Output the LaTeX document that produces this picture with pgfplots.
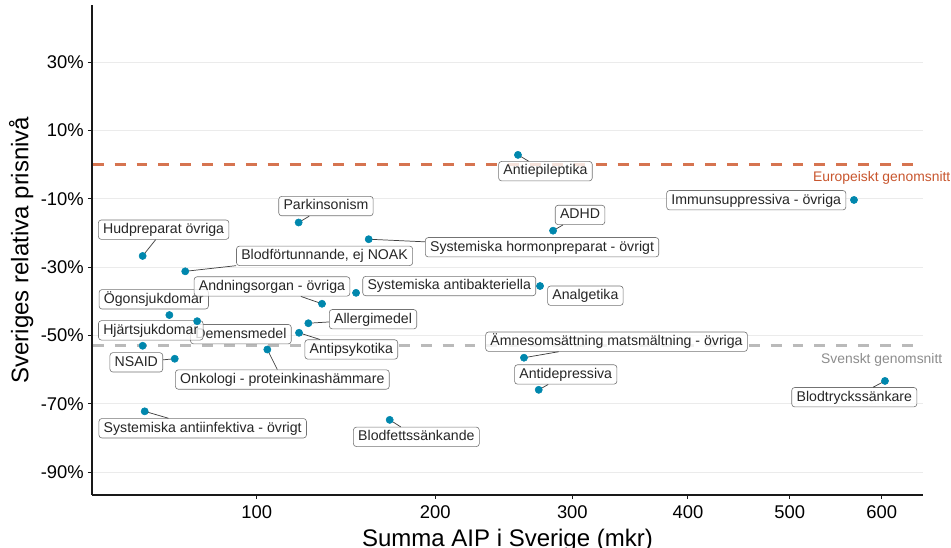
\documentclass[border=0pt]{standalone}
\usepackage{fontspec}
\setmainfont{Liberation Sans}
\usepackage{pgfplots}
\usepackage{pgfplotstable}
\pgfplotsset{compat=1.18}
\definecolor{ptc}{RGB}{0,135,173}
\definecolor{euro}{RGB}{214,116,80}
\definecolor{eurotxt}{RGB}{200,86,46}
\definecolor{swe}{RGB}{186,186,186}
\definecolor{swetxt}{RGB}{140,140,140}
\definecolor{gridc}{RGB}{235,235,235}

\pgfplotstableread{
x y
257.9 2.9
568.9 -10.3
284.7 -19.3
151.4 -37.5
274.6 -35.5
262.4 -56.5
273.6 -65.9
603.7 -63.3
158.7 -21.8
120.4 -16.9
54.1 -26.7
69.6 -31.2
132.6 -40.7
125.4 -46.4
120.6 -49.2
63.6 -44.0
74.3 -45.8
54.1 -53.0
65.6 -56.8
105.0 -54.1
54.8 -72.2
171.2 -74.7
}\pts

\tikzset{
 lbl/.style={draw=black!55, line width=0.45pt, rounded corners=2.2pt, fill=white, fill opacity=0.8, text opacity=1,
   text=black!85, font=\fontsize{10.6}{12}\selectfont, inner xsep=3.6pt, inner ysep=2.2pt,
   text height=7.95pt, text depth=2.2pt},
 seg/.style={draw=black!75, line width=0.55pt}
}
\newcommand\labS[5]{\node[lbl,xshift=#3pt,yshift=#4pt](tmp) at (axis cs:#1,#2){#5}; \draw[seg] (axis cs:#1,#2) -- (tmp);}
\newcommand\lab[5]{\node[lbl,xshift=#3pt,yshift=#4pt] at (axis cs:#1,#2){#5};}

\begin{document}
\begin{tikzpicture}
\useasboundingbox (-69pt,-39.75pt) rectangle (644.25pt,371.25pt);
\begin{axis}[
  at={(0,0)}, anchor=south west, scale only axis,
  width=623.25pt, height=367.5pt,
  x coord trafo/.code={\pgfmathparse{sqrt(#1)}},
  x coord inv trafo/.code={\pgfmathparse{#1*#1}},
  xmin=38.2, xmax=647.8, ymin=-96.7, ymax=46.8,
  axis x line*=bottom, axis y line*=left,
  axis line style={black!90, line width=0.8pt, -},
  xtick={100,200,300,400,500,600},
  xticklabels={100,200,300,400,500,600},
  ytick={-90,-70,-50,-30,-10,10,30},
  yticklabels={-90\%,-70\%,-50\%,-30\%,-10\%,10\%,30\%},
  tick align=outside, major tick length=3pt,
  tick style={black!90, line width=0.75pt},
  ticklabel style={font=\fontsize{13.8}{16}\selectfont, text=black},
  xticklabel style={inner sep=0pt, yshift=-5pt},
  yticklabel style={inner sep=0pt, xshift=-3pt},
  ymajorgrids, grid style={gridc, line width=0.75pt},
  xlabel={Summa AIP i Sverige (mkr)},
  ylabel={Sveriges relativa prisniv\r{a}},
  xlabel style={at={(axis description cs:0.5,-0.0694)}, anchor=north, inner sep=0pt, font=\fontsize{18}{21}\selectfont},
  ylabel style={at={(axis description cs:-0.0765,0.5)}, anchor=base, inner sep=0pt, font=\fontsize{18}{21}\selectfont},
  clip=false,
]
\addplot[euro, line width=2pt, dash pattern=on 8.2pt off 8.2pt, dash phase=-0.6pt] coordinates {(38.2,0) (647.8,0)};
\addplot[swe, line width=2pt, dash pattern=on 8.2pt off 8.2pt, dash phase=-0.6pt] coordinates {(38.2,-53) (647.8,-53)};
\addplot[only marks, mark=*, mark size=2.7pt, mark options={draw=ptc, fill=ptc}] table[x=x,y=y] {\pts};

\node[text=eurotxt, font=\fontsize{10.4}{12}\selectfont] at (axis cs:600,-3.85) {Europeiskt genomsnitt};
\node[text=swetxt, font=\fontsize{10.4}{12}\selectfont] at (axis cs:600,-57.1) {Svenskt genomsnitt};

\labS{257.9}{2.9}{20.6}{-12.2}{Antiepileptika}
\lab{568.9}{-10.3}{-73.3}{-0.2}{Immunsuppressiva - övriga}
\labS{284.7}{-19.3}{20.25}{11.8}{ADHD}
\lab{151.4}{-37.5}{69.9}{5.1}{Systemiska antibakteriella}
\lab{274.6}{-35.5}{34}{-7.3}{Analgetika}
\labS{262.4}{-56.5}{69.4}{12}{Ämnesomsättning matsmältning - övriga}
\labS{273.6}{-65.9}{20.25}{11.5}{Antidepressiva}
\labS{603.7}{-63.3}{-23}{-12.2}{Blodtryckssänkare}
\labS{158.7}{-21.8}{130}{-6}{Systemiska hormonpreparat - övrigt}
\labS{120.4}{-16.9}{20.5}{12.3}{Parkinsonism}
\labS{54.1}{-26.7}{15.75}{19.7}{Hudpreparat övriga}
\labS{69.6}{-31.2}{104.5}{11.6}{Blodförtunnande, ej NOAK}
\lab{63.6}{-44.0}{-11.7}{11.8}{Ögonsjukdomar}
\labS{132.6}{-40.7}{-37.5}{13}{Andningsorgan - övriga}
\labS{125.4}{-46.4}{48.5}{3}{Allergimedel}
\labS{120.6}{-49.2}{39.2}{-12.5}{Antipsykotika}
\lab{74.3}{-45.8}{32.8}{-9.75}{Demensmedel}
\lab{54.1}{-53.0}{6.1}{11.55}{Hjärtsjukdomar}
\labS{65.6}{-56.8}{-28.8}{-2.7}{NSAID}
\labS{105.0}{-54.1}{11.25}{-22.5}{Onkologi - proteinkinashämmare}
\labS{54.8}{-72.2}{43.5}{-12.7}{Systemiska antiinfektiva - övrigt}
\labS{171.2}{-74.7}{20}{-12.75}{Blodfettssänkande}
\end{axis}
\end{tikzpicture}
\end{document}
